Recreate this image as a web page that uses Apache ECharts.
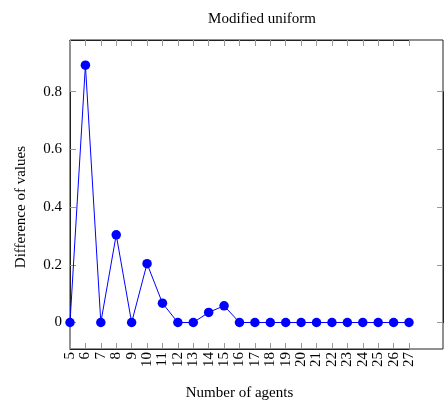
<!DOCTYPE html>
<html><head><meta charset="utf-8">
<script src="https://cdn.jsdelivr.net/npm/echarts@6/dist/echarts.min.js"></script>
<style>html,body{margin:0;padding:0;background:#fff}#c{width:447px;height:406px}</style>
</head><body><div id="c"></div>
<script>
const agents = [5,6,7,8,9,10,11,12,13,14,15,16,17,18,19,20,21,22,23,24,25,26,27];
const diffValues = [0,0.892,0,0.304,0,0.204,0.067,0,0,0.035,0.058,0,0,0,0,0,0,0,0,0,0,0,0];
const yTickMin = 0, yTickMax = 0.8, yTickStep = 0.2;
const FONT = 'Liberation Serif';

// geometry of the plot box
const L = 70, R = 4, T = 40, B = 57, W = 447 - L - R;
const xTickRight = R + 34;            // pixel gap between last tick (27) and right border
const yTop = 91.7, yZeroBottom = 83.5; // pixel positions of 0.8 / 0 ticks
const xMin = agents[0], xLast = agents[agents.length-1];
const xMax = xMin + (xLast - xMin) * W / (W - (xTickRight - R));
const yPerPx = (yTickMax - yTickMin) / (406 - yZeroBottom - yTop);
const yMin = -(406 - B - (406 - yZeroBottom)) * yPerPx;
const yMax = ((406 - yZeroBottom) - T) * yPerPx;

const chart = echarts.init(document.getElementById('c'));
function tick(){return {show:true, inside:true, length:6, lineStyle:{color:'#999'}};}
function axLine(){return {show:true, onZero:false, lineStyle:{color:'#222'}};}
chart.setOption({
  animation:false,
  title:{text:'Modified uniform', left:257, top:7, textAlign:'center',
    textStyle:{fontFamily:FONT, fontSize:15, fontWeight:'normal', color:'#000'}},
  grid:[
    {left:L, top:T, right:R, bottom:B, show:true, borderColor:'#222', borderWidth:1, outerBoundsMode:'none', containLabel:false},
    {left:L, top:T, right:xTickRight, bottom:B, outerBoundsMode:'none', containLabel:false},
    {left:L, top:yTop, right:R, bottom:yZeroBottom, outerBoundsMode:'none', containLabel:false}
  ],
  xAxis:[
    {gridIndex:0, type:'value', min:xMin, max:xMax, show:false},
    {gridIndex:1, type:'value', min:xMin, max:xLast, interval:1, position:'bottom',
      axisLine:axLine(), splitLine:{show:false}, axisTick:tick(),
      name:'Number of agents', nameLocation:'middle', nameGap:37,
      nameTextStyle:{fontFamily:FONT, fontSize:15, color:'#000'},
      axisLabel:{rotate:90, fontFamily:FONT, fontSize:15, color:'#000', margin:3}},
    {gridIndex:1, type:'value', min:xMin, max:xLast, interval:1, position:'top',
      axisLine:axLine(), splitLine:{show:false}, axisTick:tick(), axisLabel:{show:false}},
    {gridIndex:2, type:'value', min:0, max:1, show:false}
  ],
  yAxis:[
    {gridIndex:0, type:'value', min:yMin, max:yMax, show:false},
    {gridIndex:1, type:'value', min:0, max:1, show:false},
    {gridIndex:2, type:'value', min:yTickMin, max:yTickMax, interval:yTickStep, position:'left',
      axisLine:axLine(), splitLine:{show:false}, axisTick:tick(),
      name:'Difference of values', nameLocation:'middle', nameGap:41,
      nameTextStyle:{fontFamily:FONT, fontSize:15, color:'#000'},
      axisLabel:{fontFamily:FONT, fontSize:15, color:'#000', margin:8}},
    {gridIndex:2, type:'value', min:yTickMin, max:yTickMax, interval:yTickStep, position:'right',
      axisLine:axLine(), splitLine:{show:false}, axisTick:tick(), axisLabel:{show:false}}
  ],
  series:[
    {type:'line', xAxisIndex:0, yAxisIndex:0,
      data:agents.map((a,i)=>[a, diffValues[i]]),
      symbol:'circle', symbolSize:9.5,
      lineStyle:{color:'#0000ff', width:1},
      itemStyle:{color:'#0000ff'}},
    {type:'line', xAxisIndex:1, yAxisIndex:1, data:[], silent:true},
    {type:'line', xAxisIndex:3, yAxisIndex:2, data:[], silent:true}
  ]
});
</script></body></html>
